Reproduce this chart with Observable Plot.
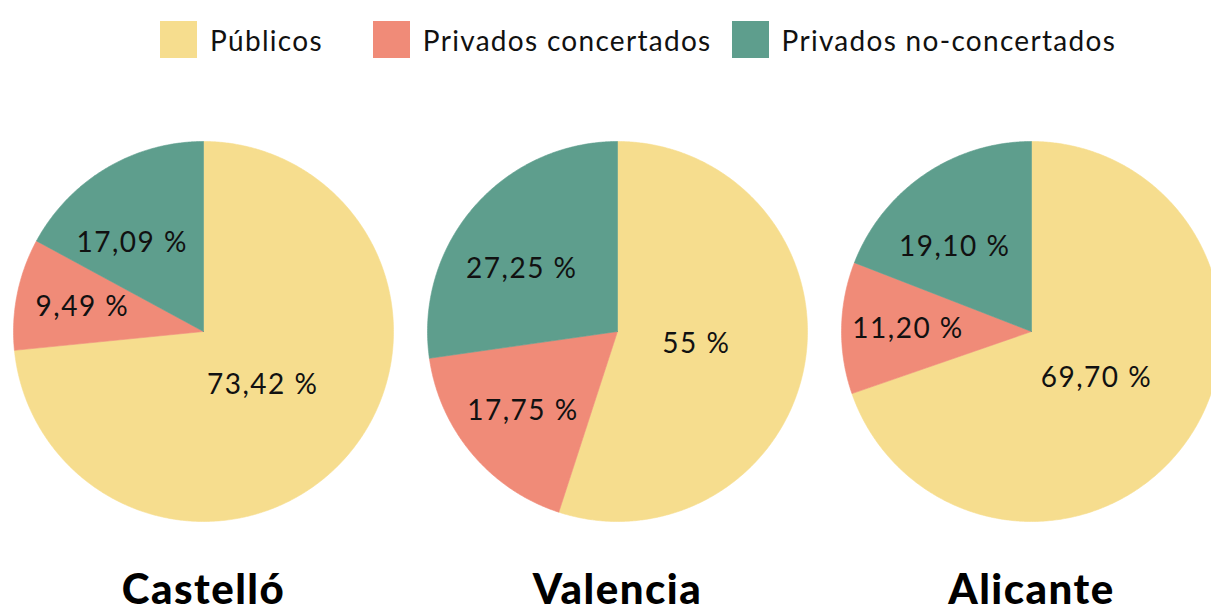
<!DOCTYPE html>
<html>
<head>
<meta charset="utf-8">
<script src="https://cdn.jsdelivr.net/npm/d3@7"></script>
<script src="https://cdn.jsdelivr.net/npm/@observablehq/plot@0.6"></script>
<style>
  html, body { margin: 0; padding: 0; background: #fff; overflow: hidden; }
  #legend { height: 80px; overflow: hidden; }
  .lg-swatches { font-family: Lato, sans-serif; font-size: 28px; letter-spacing: 1.3px; color: #111; margin: 0 !important; padding-top: 21px; padding-left: 160px; }
  .lg-swatch { margin-right: 50px !important; }
  .lg-swatch:nth-of-type(2) { margin-right: 20px !important; }
  .lg-swatch > svg { margin-right: 13px !important; }
  #chart svg { overflow: hidden; display: block; }
</style>
</head>
<body>
<div id="legend"></div>
<div id="chart"></div>
<script>
// ---- data ----
const cities = ["Castelló", "Valencia", "Alicante"];
const categories = ["Públicos", "Privados concertados", "Privados no-concertados"];
const colors = ["#F6DD8E", "#F08B78", "#5E9E8D"];
const castello = [73.42, 9.49, 17.09];
const valencia = [55, 17.75, 27.25];
const alicante = [69.70, 11.20, 19.10];
const shares = [castello, valencia, alicante];

// ---- layout ----
const W = 1211, H = 533;
const k = 190;              // pixels per radius unit
const firstCx = 203, cy = 251, spacing = 414 / k;
const labelRadius = [0.42, 0.65, 0.6];
const labelAngleShift = [0, 0, -8 * Math.PI / 180];

const fmt = v => (Number.isInteger(v) ? String(v) : v.toFixed(2).replace(".", ",")) + " %";

const points = [], labels = [];
cities.forEach((city, i) => {
  const cx = i * spacing;
  let acc = 0;
  categories.forEach((cat, j) => {
    const v = shares[i][j];
    const a0 = acc / 100 * 2 * Math.PI, a1 = (acc + v) / 100 * 2 * Math.PI;
    acc += v;
    const id = city + "|" + cat;
    points.push({id, cat, x: cx, y: 0});
    const n = Math.max(2, Math.ceil((a1 - a0) / (Math.PI / 360)));
    for (let s = 0; s <= n; s++) {
      const a = a0 + (a1 - a0) * s / n;
      points.push({id, cat, x: cx + Math.sin(a), y: Math.cos(a)});
    }
    points.push({id, cat, x: cx, y: 0});
    const am = (a0 + a1) / 2 + labelAngleShift[j], r = labelRadius[j];
    labels.push({x: cx + r * Math.sin(am), y: r * Math.cos(am), text: fmt(v)});
  });
});

const titles = cities.map((c, i) => ({x: i * spacing, y: -(510 - cy) / k, text: c}));

document.getElementById("legend").append(
  Plot.legend({color: {domain: categories, range: colors}, swatchWidth: 37, swatchHeight: 37, className: "lg"})
);

const chart = Plot.plot({
  width: W, height: H, margin: 0,
  style: {fontFamily: "Lato, sans-serif", background: "#fff"},
  x: {domain: [-firstCx / k, (W - firstCx) / k], axis: null},
  y: {domain: [-(H - cy) / k, cy / k], axis: null},
  color: {domain: categories, range: colors},
  marks: [
    Plot.line(points, {x: "x", y: "y", z: "id", fill: "cat", stroke: "cat", strokeWidth: 0.6, clip: true}),
    Plot.text(labels, {x: "x", y: "y", text: "text", fontSize: 28, fill: "#111"}),
    Plot.text(titles, {x: "x", y: "y", text: "text", fontSize: 42, fontWeight: 900, fill: "#000"})
  ]
});
chart.querySelectorAll("g[aria-label=text] text").forEach(t => {
  t.style.letterSpacing = t.getAttribute("font-size") === "42" ? "1px" : "1.5px";
});
document.getElementById("chart").append(chart);
</script>
</body>
</html>
